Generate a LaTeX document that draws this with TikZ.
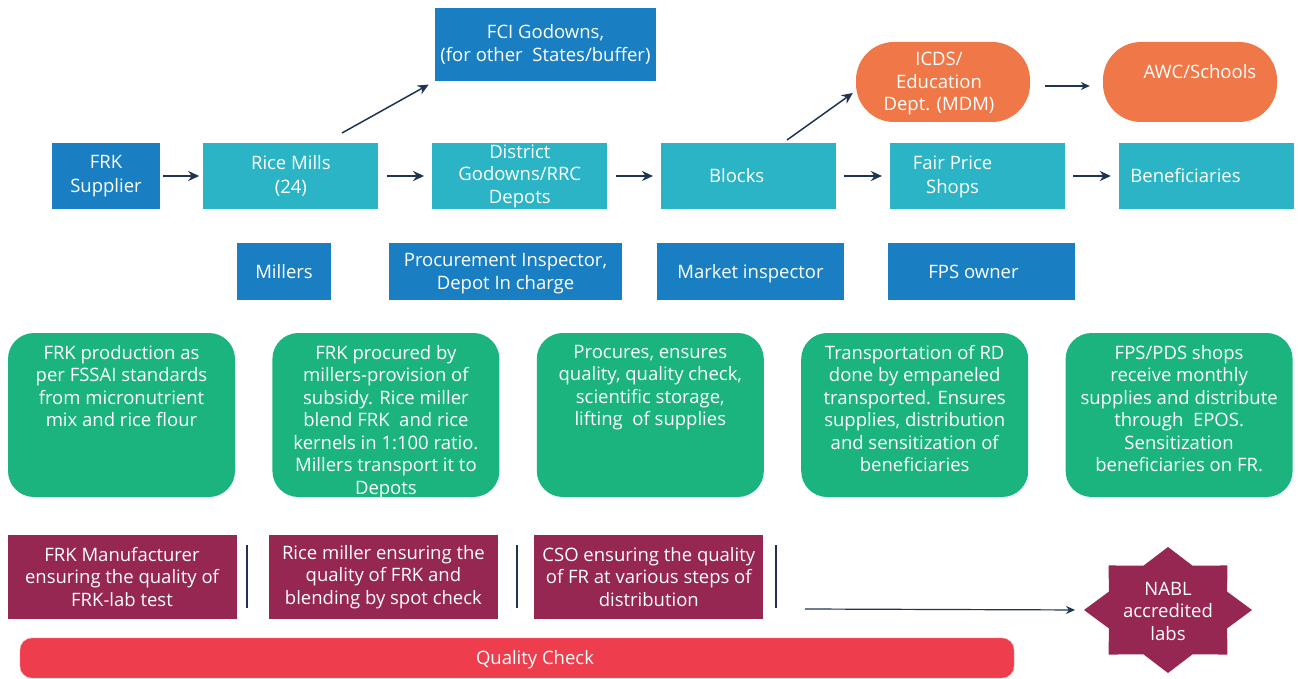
\documentclass[tikz,border=0pt]{standalone}
\usepackage{fontspec}
\setmainfont{Open Sans}
\usetikzlibrary{positioning,arrows.meta,calc}

\definecolor{flowcyan}{HTML}{2AB4C6}
\definecolor{roleblue}{HTML}{1A7FC2}
\definecolor{mdmorange}{HTML}{F07848}
\definecolor{taskgreen}{HTML}{1BB47F}
\definecolor{qcmaroon}{HTML}{952752}
\definecolor{qcred}{HTML}{EE3D4C}
\definecolor{arrowblue}{HTML}{1E3452}

\newcommand{\boxfont}{\fontsize{18.5}{22.5}\selectfont}
\newcommand{\wideboxfont}{\fontsize{18.5}{24}\selectfont}

\tikzset{
  txt/.style={inner sep=0pt, align=center, text=white, font=\boxfont},
  box/.style={txt, minimum height=66pt},
  flowbox/.style={box, fill=flowcyan, minimum width=175pt},
  rolebox/.style={box, fill=roleblue, minimum height=57pt},
  mdmbox/.style={box, fill=mdmorange, rounded corners=38pt, minimum width=174pt, minimum height=80pt},
  taskbox/.style={box, fill=taskgreen, rounded corners=26pt, minimum width=227pt, minimum height=164pt},
  qcbox/.style={box, fill=qcmaroon, minimum width=229pt, minimum height=84pt},
  flow/.style={->, line width=2pt, arrowblue, shorten <=8pt, shorten >=8pt},
  diag/.style={->, line width=1.5pt, arrowblue},
  thinarrow/.style={-{Stealth[length=9pt,width=8pt]}, line width=1.2pt, arrowblue},
  divider/.style={line width=1.2pt, arrowblue}
}

\begin{document}
\begin{tikzpicture}[x=1pt, y=-1pt, node distance=53.5pt, >={Stealth[length=11pt,width=10pt]}]
    \useasboundingbox (0,0) rectangle (1298,679);

    % supply chain
    \node[rolebox, minimum width=108pt, minimum height=66pt, font=\wideboxfont] (sup) at (106,176) {FRK\\Supplier};
    \node[flowbox, font=\wideboxfont] (rice) [right=43pt of sup] {Rice Mills\\(24)};
    \node[flowbox] (depot) [right=of rice] {District\\Godowns/RRC\\Depots};
    \node[flowbox] (blocks) [right=of depot] {};
    \node[flowbox] (fps) [right=of blocks] {};
    \node[flowbox] (ben) [right=of fps] {};
    \node[txt] (blockstxt) at ([xshift=-12pt]blocks.center) {Blocks};
    \node[txt, font=\wideboxfont] (fpstxt) at ([xshift=-25pt,yshift=-1pt]fps.center) {Fair Price\\Shops};
    \node[txt] (bentxt) at ([xshift=-21pt]ben.center) {Beneficiaries};

    \node[rolebox, minimum width=221pt, minimum height=73pt] (fci) at (545.5,44.5) {FCI Godowns,\\(for other~ States/buffer)};
    \node[mdmbox] (icds) at (943,82) {};
    \node[txt] (icdstxt) at ([xshift=-4pt,yshift=-2pt]icds.center) {ICDS/\\Education\\Dept. (MDM)};
    \node[mdmbox] (awc) at (1190,82) {};
    \node[txt] (awctxt) at ([xshift=10pt,yshift=10pt]awc.center) {AWC/Schools};

    \path[flow, shorten <=3pt, shorten >=4pt] (sup) edge (rice);
    \path[flow] (rice) edge (depot);
    \path[flow] (depot) edge (blocks);
    \path[flow] (blocks) edge (fps);
    \path[flow] (fps) edge (ben);

    \coordinate (ricetop) at (342,133);
    \coordinate (blockstop) at (787,140);
    \draw[diag, shorten >=7pt] (ricetop) -- (fci.south west);
    \draw[diag] (blockstop) -- ($(icds.west)+(-3,11)$);
    \draw[thinarrow, shorten <=15pt, shorten >=13pt] ([yshift=-4pt]icds.east) -- ([yshift=-4pt]awc.west);

    % who is responsible
    \node[rolebox, minimum width=94pt] (millers) at (284,271.5) {Millers};
    \node[rolebox, minimum width=233pt] (inspector) at (505.5,271.5) {};
    \node[txt] (inspectortxt) at ([yshift=-2pt]inspector.center) {Procurement Inspector,\\Depot In charge};
    \node[rolebox, minimum width=187pt] (market) at (750.5,271.5) {};
    \node[txt] (markettxt) at ([yshift=-2pt]market.center) {Market inspector};
    \node[rolebox, minimum width=187pt] (owner) at (981.5,271.5) {};
    \node[txt] (ownertxt) at ([xshift=-8pt]owner.center) {FPS owner};

    % what is done
    \node[taskbox] (task1) at (121.5,415) {};
    \node[taskbox] (task2) [right=37pt of task1] {};
    \node[taskbox] (task3) [right=37pt of task2] {};
    \node[taskbox] (task4) [right=37pt of task3] {};
    \node[taskbox] (task5) [right=37pt of task4] {};
    \node[txt, anchor=north] (task1txt) at ([yshift=-12pt]task1.north) {FRK production as\\per FSSAI standards\\from micronutrient\\mix and rice flour};
    \node[txt, anchor=north] (task2txt) at ([yshift=-12pt]task2.north) {FRK procured by\\millers-provision of\\subsidy. Rice miller\\blend FRK~ and rice\\kernels in 1:100 ratio.\\Millers transport it to\\Depots};
    \node[txt, anchor=north] (task3txt) at ([yshift=-12pt]task3.north) {Procures, ensures\\quality, quality check,\\scientific storage,\\lifting~ of supplies};
    \node[txt, anchor=north] (task4txt) at ([yshift=-12pt]task4.north) {Transportation of RD\\done by empaneled\\transported. Ensures\\supplies, distribution\\and sensitization of\\beneficiaries};
    \node[txt, anchor=north] (task5txt) at ([yshift=-12pt]task5.north) {FPS/PDS shops\\receive monthly\\supplies and distribute\\through~ EPOS.\\Sensitization\\beneficiaries on FR.};

    % quality check
    \node[qcbox] (qc1) at (122,577) {FRK Manufacturer\\ensuring the quality of\\FRK-lab test};
    \node[qcbox] (qc2) [right=32pt of qc1] {Rice miller ensuring the\\quality of FRK and\\blending by spot check};
    \node[qcbox] (qc3) [right=36pt of qc2] {CSO ensuring the quality\\of FR at various steps of\\distribution};
    \draw[divider] (247,545) -- (247,608);
    \draw[divider] (517,545) -- (517,608);
    \draw[divider] (776,545) -- (776,608);

    \coordinate (nablc) at (1168,610);
    \fill[qcmaroon] ([shift={(nablc)}]0:84pt and 63pt)
      \foreach \a in {0,45,...,315} { -- ([shift={(nablc)}]\a+22.5:64pt and 48pt) -- ([shift={(nablc)}]\a+45:84pt and 63pt) } -- cycle;
    \node[txt] (nabl) at ([yshift=-1pt]nablc) {NABL\\accredited\\labs};
    \coordinate (qcend) at (805,609);
    \draw[thinarrow, shorten >=9pt] (qcend) -- ([xshift=-84pt]nablc);

    \node[box, fill=qcred, draw=qcred!60!white, rounded corners=12pt, minimum width=994pt, minimum height=40pt] (quality) at (517,658) {};
    \node[txt] (qualitytxt) at ([xshift=18pt,yshift=-2pt]quality.center) {Quality Check};
  \end{tikzpicture}
\end{document}
